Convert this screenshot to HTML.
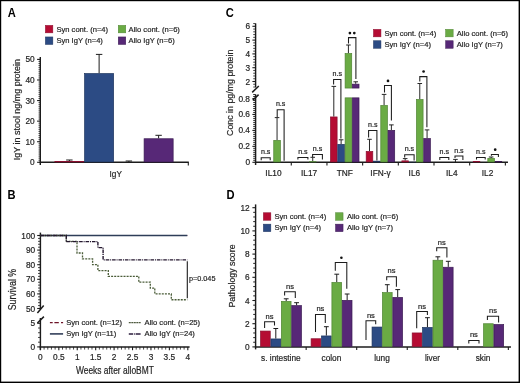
<!DOCTYPE html>
<html><head><meta charset="utf-8"><title>Figure</title>
<style>
html,body{margin:0;padding:0;background:#fff;}
body{width:520px;height:383px;overflow:hidden;}
svg{display:block;font-family:"Liberation Sans", sans-serif;filter:blur(0.35px);}
</style></head><body>
<svg width="520" height="383" viewBox="0 0 520 383">
<rect x="0" y="0" width="520" height="383" fill="#fff"/>
<rect x="0" y="0" width="520" height="1.2" fill="#000"/>
<rect x="0" y="0" width="1.2" height="383" fill="#000"/>
<rect x="518.6" y="0" width="1.4" height="383" fill="#000"/>
<rect x="0" y="381.6" width="520" height="1.4" fill="#000"/>
<text transform="translate(7.7,16.8) scale(0.93,1)" font-size="12" text-anchor="start" font-weight="bold" fill="#000">A</text>
<text transform="translate(7.6,198.9) scale(0.93,1)" font-size="12" text-anchor="start" font-weight="bold" fill="#000">B</text>
<text transform="translate(225.7,17) scale(0.93,1)" font-size="12" text-anchor="start" font-weight="bold" fill="#000">C</text>
<text transform="translate(226.4,198.8) scale(0.93,1)" font-size="12" text-anchor="start" font-weight="bold" fill="#000">D</text>
<line x1="40.3" y1="57" x2="40.3" y2="165" stroke="#1c1c1c" stroke-width="1.45"/>
<line x1="39.6" y1="162.3" x2="188.8" y2="162.3" stroke="#1c1c1c" stroke-width="1.45"/>
<line x1="188.3" y1="162.3" x2="188.3" y2="165.4" stroke="#1c1c1c" stroke-width="1.1"/>
<line x1="37.1" y1="162.3" x2="40.3" y2="162.3" stroke="#1c1c1c" stroke-width="1.1"/>
<line x1="38.5" y1="160.24" x2="40.3" y2="160.24" stroke="#222" stroke-width="0.8"/>
<line x1="38.5" y1="158.18" x2="40.3" y2="158.18" stroke="#222" stroke-width="0.8"/>
<line x1="38.5" y1="156.13" x2="40.3" y2="156.13" stroke="#222" stroke-width="0.8"/>
<line x1="38.5" y1="154.07" x2="40.3" y2="154.07" stroke="#222" stroke-width="0.8"/>
<line x1="38.5" y1="152.01" x2="40.3" y2="152.01" stroke="#222" stroke-width="0.8"/>
<line x1="38.5" y1="149.95" x2="40.3" y2="149.95" stroke="#222" stroke-width="0.8"/>
<line x1="38.5" y1="147.89" x2="40.3" y2="147.89" stroke="#222" stroke-width="0.8"/>
<line x1="38.5" y1="145.84" x2="40.3" y2="145.84" stroke="#222" stroke-width="0.8"/>
<line x1="38.5" y1="143.78" x2="40.3" y2="143.78" stroke="#222" stroke-width="0.8"/>
<line x1="37.1" y1="141.72" x2="40.3" y2="141.72" stroke="#1c1c1c" stroke-width="1.1"/>
<line x1="38.5" y1="139.66" x2="40.3" y2="139.66" stroke="#222" stroke-width="0.8"/>
<line x1="38.5" y1="137.6" x2="40.3" y2="137.6" stroke="#222" stroke-width="0.8"/>
<line x1="38.5" y1="135.55" x2="40.3" y2="135.55" stroke="#222" stroke-width="0.8"/>
<line x1="38.5" y1="133.49" x2="40.3" y2="133.49" stroke="#222" stroke-width="0.8"/>
<line x1="38.5" y1="131.43" x2="40.3" y2="131.43" stroke="#222" stroke-width="0.8"/>
<line x1="38.5" y1="129.37" x2="40.3" y2="129.37" stroke="#222" stroke-width="0.8"/>
<line x1="38.5" y1="127.31" x2="40.3" y2="127.31" stroke="#222" stroke-width="0.8"/>
<line x1="38.5" y1="125.26" x2="40.3" y2="125.26" stroke="#222" stroke-width="0.8"/>
<line x1="38.5" y1="123.2" x2="40.3" y2="123.2" stroke="#222" stroke-width="0.8"/>
<line x1="37.1" y1="121.14" x2="40.3" y2="121.14" stroke="#1c1c1c" stroke-width="1.1"/>
<line x1="38.5" y1="119.08" x2="40.3" y2="119.08" stroke="#222" stroke-width="0.8"/>
<line x1="38.5" y1="117.02" x2="40.3" y2="117.02" stroke="#222" stroke-width="0.8"/>
<line x1="38.5" y1="114.97" x2="40.3" y2="114.97" stroke="#222" stroke-width="0.8"/>
<line x1="38.5" y1="112.91" x2="40.3" y2="112.91" stroke="#222" stroke-width="0.8"/>
<line x1="38.5" y1="110.85" x2="40.3" y2="110.85" stroke="#222" stroke-width="0.8"/>
<line x1="38.5" y1="108.79" x2="40.3" y2="108.79" stroke="#222" stroke-width="0.8"/>
<line x1="38.5" y1="106.73" x2="40.3" y2="106.73" stroke="#222" stroke-width="0.8"/>
<line x1="38.5" y1="104.68" x2="40.3" y2="104.68" stroke="#222" stroke-width="0.8"/>
<line x1="38.5" y1="102.62" x2="40.3" y2="102.62" stroke="#222" stroke-width="0.8"/>
<line x1="37.1" y1="100.56" x2="40.3" y2="100.56" stroke="#1c1c1c" stroke-width="1.1"/>
<line x1="38.5" y1="98.5" x2="40.3" y2="98.5" stroke="#222" stroke-width="0.8"/>
<line x1="38.5" y1="96.44" x2="40.3" y2="96.44" stroke="#222" stroke-width="0.8"/>
<line x1="38.5" y1="94.39" x2="40.3" y2="94.39" stroke="#222" stroke-width="0.8"/>
<line x1="38.5" y1="92.33" x2="40.3" y2="92.33" stroke="#222" stroke-width="0.8"/>
<line x1="38.5" y1="90.27" x2="40.3" y2="90.27" stroke="#222" stroke-width="0.8"/>
<line x1="38.5" y1="88.21" x2="40.3" y2="88.21" stroke="#222" stroke-width="0.8"/>
<line x1="38.5" y1="86.15" x2="40.3" y2="86.15" stroke="#222" stroke-width="0.8"/>
<line x1="38.5" y1="84.1" x2="40.3" y2="84.1" stroke="#222" stroke-width="0.8"/>
<line x1="38.5" y1="82.04" x2="40.3" y2="82.04" stroke="#222" stroke-width="0.8"/>
<line x1="37.1" y1="79.98" x2="40.3" y2="79.98" stroke="#1c1c1c" stroke-width="1.1"/>
<line x1="38.5" y1="77.92" x2="40.3" y2="77.92" stroke="#222" stroke-width="0.8"/>
<line x1="38.5" y1="75.86" x2="40.3" y2="75.86" stroke="#222" stroke-width="0.8"/>
<line x1="38.5" y1="73.81" x2="40.3" y2="73.81" stroke="#222" stroke-width="0.8"/>
<line x1="38.5" y1="71.75" x2="40.3" y2="71.75" stroke="#222" stroke-width="0.8"/>
<line x1="38.5" y1="69.69" x2="40.3" y2="69.69" stroke="#222" stroke-width="0.8"/>
<line x1="38.5" y1="67.63" x2="40.3" y2="67.63" stroke="#222" stroke-width="0.8"/>
<line x1="38.5" y1="65.57" x2="40.3" y2="65.57" stroke="#222" stroke-width="0.8"/>
<line x1="38.5" y1="63.52" x2="40.3" y2="63.52" stroke="#222" stroke-width="0.8"/>
<line x1="38.5" y1="61.46" x2="40.3" y2="61.46" stroke="#222" stroke-width="0.8"/>
<line x1="37.1" y1="59.4" x2="40.3" y2="59.4" stroke="#1c1c1c" stroke-width="1.1"/>
<text x="34.7" y="165.3" font-size="8.3" text-anchor="end" font-weight="normal" fill="#1c1c1c" stroke="#2a2a2a" stroke-width="0.2">0</text>
<text x="34.7" y="144.72" font-size="8.3" text-anchor="end" font-weight="normal" fill="#1c1c1c" stroke="#2a2a2a" stroke-width="0.2">10</text>
<text x="34.7" y="124.14" font-size="8.3" text-anchor="end" font-weight="normal" fill="#1c1c1c" stroke="#2a2a2a" stroke-width="0.2">20</text>
<text x="34.7" y="103.56" font-size="8.3" text-anchor="end" font-weight="normal" fill="#1c1c1c" stroke="#2a2a2a" stroke-width="0.2">30</text>
<text x="34.7" y="82.98" font-size="8.3" text-anchor="end" font-weight="normal" fill="#1c1c1c" stroke="#2a2a2a" stroke-width="0.2">40</text>
<text x="34.7" y="62.4" font-size="8.3" text-anchor="end" font-weight="normal" fill="#1c1c1c" stroke="#2a2a2a" stroke-width="0.2">50</text>
<line x1="69.38" y1="161.2" x2="69.38" y2="160" stroke="#1c1c1c" stroke-width="1"/>
<line x1="66.17" y1="160" x2="72.58" y2="160" stroke="#1c1c1c" stroke-width="1"/>
<rect x="54.85" y="161.55" width="29.05" height="0.4" fill="#b50c33" stroke="#8a1030" stroke-width="0.7"/>
<line x1="99.12" y1="73.2" x2="99.12" y2="54.4" stroke="#1c1c1c" stroke-width="1"/>
<line x1="95.92" y1="54.4" x2="102.33" y2="54.4" stroke="#1c1c1c" stroke-width="1"/>
<rect x="84.6" y="73.55" width="29.05" height="88.4" fill="#2c4b84" stroke="#1f355e" stroke-width="0.7"/>
<line x1="128.88" y1="162.3" x2="128.88" y2="161" stroke="#1c1c1c" stroke-width="1"/>
<line x1="125.67" y1="161" x2="132.07" y2="161" stroke="#1c1c1c" stroke-width="1"/>
<line x1="158.62" y1="138.4" x2="158.62" y2="135.3" stroke="#1c1c1c" stroke-width="1"/>
<line x1="155.43" y1="135.3" x2="161.82" y2="135.3" stroke="#1c1c1c" stroke-width="1"/>
<rect x="144.1" y="138.75" width="29.05" height="23.2" fill="#572877" stroke="#3b1a52" stroke-width="0.7"/>
<text transform="translate(19.5,109.6) rotate(-90)" font-size="8.95" text-anchor="middle" fill="#1c1c1c" stroke="#2a2a2a" stroke-width="0.2">IgY in stool ng/mg protein</text>
<text transform="translate(115.7,176.8) scale(0.86,1)" font-size="9.6" text-anchor="middle" font-weight="normal" fill="#1c1c1c" stroke="#2a2a2a" stroke-width="0.2">IgY</text>
<rect x="45.35" y="25.35" width="7.5" height="7.5" fill="#b50c33" stroke="#8a1030" stroke-width="0.5"/>
<text x="56.4" y="31.5" font-size="7.6" text-anchor="start" font-weight="normal" fill="#1c1c1c" stroke="#2a2a2a" stroke-width="0.2">Syn cont. (n=4)</text>
<rect x="45.35" y="36.95" width="7.5" height="7.5" fill="#2c4b84" stroke="#1f355e" stroke-width="0.5"/>
<text x="56.4" y="43.1" font-size="7.6" text-anchor="start" font-weight="normal" fill="#1c1c1c" stroke="#2a2a2a" stroke-width="0.2">Syn IgY (n=4)</text>
<rect x="118.25" y="25.35" width="7.5" height="7.5" fill="#6aab44" stroke="#4f8432" stroke-width="0.5"/>
<text x="128.6" y="31.5" font-size="7.6" text-anchor="start" font-weight="normal" fill="#1c1c1c" stroke="#2a2a2a" stroke-width="0.2">Allo cont. (n=6)</text>
<rect x="118.25" y="36.95" width="7.5" height="7.5" fill="#572877" stroke="#3b1a52" stroke-width="0.5"/>
<text x="128.6" y="43.1" font-size="7.6" text-anchor="start" font-weight="normal" fill="#1c1c1c" stroke="#2a2a2a" stroke-width="0.2">Allo IgY (n=6)</text>
<line x1="40.4" y1="232.6" x2="40.4" y2="309" stroke="#1c1c1c" stroke-width="1.45"/>
<line x1="40.4" y1="318" x2="40.4" y2="349.8" stroke="#1c1c1c" stroke-width="1.45"/>
<line x1="37.4" y1="312.9" x2="43.7" y2="305.4" stroke="#1c1c1c" stroke-width="1.5"/>
<line x1="37.4" y1="323" x2="43.9" y2="316.6" stroke="#1c1c1c" stroke-width="1.5"/>
<line x1="39.7" y1="346.9" x2="189.6" y2="346.9" stroke="#1c1c1c" stroke-width="1.45"/>
<line x1="37.2" y1="308.5" x2="40.4" y2="308.5" stroke="#1c1c1c" stroke-width="1.1"/>
<line x1="38" y1="305.58" x2="40.4" y2="305.58" stroke="#1c1c1c" stroke-width="0.8"/>
<line x1="38" y1="302.66" x2="40.4" y2="302.66" stroke="#1c1c1c" stroke-width="0.8"/>
<line x1="38" y1="299.74" x2="40.4" y2="299.74" stroke="#1c1c1c" stroke-width="0.8"/>
<line x1="38" y1="296.82" x2="40.4" y2="296.82" stroke="#1c1c1c" stroke-width="0.8"/>
<line x1="37.2" y1="293.9" x2="40.4" y2="293.9" stroke="#1c1c1c" stroke-width="1.1"/>
<line x1="38" y1="290.98" x2="40.4" y2="290.98" stroke="#1c1c1c" stroke-width="0.8"/>
<line x1="38" y1="288.06" x2="40.4" y2="288.06" stroke="#1c1c1c" stroke-width="0.8"/>
<line x1="38" y1="285.14" x2="40.4" y2="285.14" stroke="#1c1c1c" stroke-width="0.8"/>
<line x1="38" y1="282.22" x2="40.4" y2="282.22" stroke="#1c1c1c" stroke-width="0.8"/>
<line x1="37.2" y1="279.3" x2="40.4" y2="279.3" stroke="#1c1c1c" stroke-width="1.1"/>
<line x1="38" y1="276.38" x2="40.4" y2="276.38" stroke="#1c1c1c" stroke-width="0.8"/>
<line x1="38" y1="273.46" x2="40.4" y2="273.46" stroke="#1c1c1c" stroke-width="0.8"/>
<line x1="38" y1="270.54" x2="40.4" y2="270.54" stroke="#1c1c1c" stroke-width="0.8"/>
<line x1="38" y1="267.62" x2="40.4" y2="267.62" stroke="#1c1c1c" stroke-width="0.8"/>
<line x1="37.2" y1="264.7" x2="40.4" y2="264.7" stroke="#1c1c1c" stroke-width="1.1"/>
<line x1="38" y1="261.78" x2="40.4" y2="261.78" stroke="#1c1c1c" stroke-width="0.8"/>
<line x1="38" y1="258.86" x2="40.4" y2="258.86" stroke="#1c1c1c" stroke-width="0.8"/>
<line x1="38" y1="255.94" x2="40.4" y2="255.94" stroke="#1c1c1c" stroke-width="0.8"/>
<line x1="38" y1="253.02" x2="40.4" y2="253.02" stroke="#1c1c1c" stroke-width="0.8"/>
<line x1="37.2" y1="250.1" x2="40.4" y2="250.1" stroke="#1c1c1c" stroke-width="1.1"/>
<line x1="38" y1="247.18" x2="40.4" y2="247.18" stroke="#1c1c1c" stroke-width="0.8"/>
<line x1="38" y1="244.26" x2="40.4" y2="244.26" stroke="#1c1c1c" stroke-width="0.8"/>
<line x1="38" y1="241.34" x2="40.4" y2="241.34" stroke="#1c1c1c" stroke-width="0.8"/>
<line x1="38" y1="238.42" x2="40.4" y2="238.42" stroke="#1c1c1c" stroke-width="0.8"/>
<line x1="37.2" y1="235.5" x2="40.4" y2="235.5" stroke="#1c1c1c" stroke-width="1.1"/>
<text x="35.2" y="311.5" font-size="8.3" text-anchor="end" font-weight="normal" fill="#1c1c1c" stroke="#2a2a2a" stroke-width="0.2">50</text>
<text x="35.2" y="296.9" font-size="8.3" text-anchor="end" font-weight="normal" fill="#1c1c1c" stroke="#2a2a2a" stroke-width="0.2">60</text>
<text x="35.2" y="282.3" font-size="8.3" text-anchor="end" font-weight="normal" fill="#1c1c1c" stroke="#2a2a2a" stroke-width="0.2">70</text>
<text x="35.2" y="267.7" font-size="8.3" text-anchor="end" font-weight="normal" fill="#1c1c1c" stroke="#2a2a2a" stroke-width="0.2">80</text>
<text x="35.2" y="253.1" font-size="8.3" text-anchor="end" font-weight="normal" fill="#1c1c1c" stroke="#2a2a2a" stroke-width="0.2">90</text>
<text x="35.2" y="238.5" font-size="8.3" text-anchor="end" font-weight="normal" fill="#1c1c1c" stroke="#2a2a2a" stroke-width="0.2">100</text>
<line x1="37.2" y1="346.9" x2="40.4" y2="346.9" stroke="#1c1c1c" stroke-width="1.1"/>
<line x1="38" y1="342.18" x2="40.4" y2="342.18" stroke="#1c1c1c" stroke-width="0.8"/>
<line x1="38" y1="337.46" x2="40.4" y2="337.46" stroke="#1c1c1c" stroke-width="0.8"/>
<line x1="38" y1="332.74" x2="40.4" y2="332.74" stroke="#1c1c1c" stroke-width="0.8"/>
<line x1="38" y1="328.02" x2="40.4" y2="328.02" stroke="#1c1c1c" stroke-width="0.8"/>
<line x1="37.2" y1="323.3" x2="40.4" y2="323.3" stroke="#1c1c1c" stroke-width="1.1"/>
<text x="35.2" y="326.3" font-size="8.3" text-anchor="end" font-weight="normal" fill="#1c1c1c" stroke="#2a2a2a" stroke-width="0.2">5</text>
<text x="35.2" y="349.9" font-size="8.3" text-anchor="end" font-weight="normal" fill="#1c1c1c" stroke="#2a2a2a" stroke-width="0.2">0</text>
<line x1="40.4" y1="346.9" x2="40.4" y2="350.2" stroke="#1c1c1c" stroke-width="1.1"/>
<line x1="44.09" y1="346.9" x2="44.09" y2="349.6" stroke="#1c1c1c" stroke-width="0.8"/>
<line x1="47.77" y1="346.9" x2="47.77" y2="349.6" stroke="#1c1c1c" stroke-width="0.8"/>
<line x1="51.45" y1="346.9" x2="51.45" y2="349.6" stroke="#1c1c1c" stroke-width="0.8"/>
<line x1="55.14" y1="346.9" x2="55.14" y2="349.6" stroke="#1c1c1c" stroke-width="0.8"/>
<line x1="58.83" y1="346.9" x2="58.83" y2="350.2" stroke="#1c1c1c" stroke-width="1.1"/>
<line x1="62.51" y1="346.9" x2="62.51" y2="349.6" stroke="#1c1c1c" stroke-width="0.8"/>
<line x1="66.19" y1="346.9" x2="66.19" y2="349.6" stroke="#1c1c1c" stroke-width="0.8"/>
<line x1="69.88" y1="346.9" x2="69.88" y2="349.6" stroke="#1c1c1c" stroke-width="0.8"/>
<line x1="73.56" y1="346.9" x2="73.56" y2="349.6" stroke="#1c1c1c" stroke-width="0.8"/>
<line x1="77.25" y1="346.9" x2="77.25" y2="350.2" stroke="#1c1c1c" stroke-width="1.1"/>
<line x1="80.94" y1="346.9" x2="80.94" y2="349.6" stroke="#1c1c1c" stroke-width="0.8"/>
<line x1="84.62" y1="346.9" x2="84.62" y2="349.6" stroke="#1c1c1c" stroke-width="0.8"/>
<line x1="88.31" y1="346.9" x2="88.31" y2="349.6" stroke="#1c1c1c" stroke-width="0.8"/>
<line x1="91.99" y1="346.9" x2="91.99" y2="349.6" stroke="#1c1c1c" stroke-width="0.8"/>
<line x1="95.68" y1="346.9" x2="95.68" y2="350.2" stroke="#1c1c1c" stroke-width="1.1"/>
<line x1="99.36" y1="346.9" x2="99.36" y2="349.6" stroke="#1c1c1c" stroke-width="0.8"/>
<line x1="103.05" y1="346.9" x2="103.05" y2="349.6" stroke="#1c1c1c" stroke-width="0.8"/>
<line x1="106.73" y1="346.9" x2="106.73" y2="349.6" stroke="#1c1c1c" stroke-width="0.8"/>
<line x1="110.41" y1="346.9" x2="110.41" y2="349.6" stroke="#1c1c1c" stroke-width="0.8"/>
<line x1="114.1" y1="346.9" x2="114.1" y2="350.2" stroke="#1c1c1c" stroke-width="1.1"/>
<line x1="117.78" y1="346.9" x2="117.78" y2="349.6" stroke="#1c1c1c" stroke-width="0.8"/>
<line x1="121.47" y1="346.9" x2="121.47" y2="349.6" stroke="#1c1c1c" stroke-width="0.8"/>
<line x1="125.16" y1="346.9" x2="125.16" y2="349.6" stroke="#1c1c1c" stroke-width="0.8"/>
<line x1="128.84" y1="346.9" x2="128.84" y2="349.6" stroke="#1c1c1c" stroke-width="0.8"/>
<line x1="132.53" y1="346.9" x2="132.53" y2="350.2" stroke="#1c1c1c" stroke-width="1.1"/>
<line x1="136.21" y1="346.9" x2="136.21" y2="349.6" stroke="#1c1c1c" stroke-width="0.8"/>
<line x1="139.9" y1="346.9" x2="139.9" y2="349.6" stroke="#1c1c1c" stroke-width="0.8"/>
<line x1="143.58" y1="346.9" x2="143.58" y2="349.6" stroke="#1c1c1c" stroke-width="0.8"/>
<line x1="147.26" y1="346.9" x2="147.26" y2="349.6" stroke="#1c1c1c" stroke-width="0.8"/>
<line x1="150.95" y1="346.9" x2="150.95" y2="350.2" stroke="#1c1c1c" stroke-width="1.1"/>
<line x1="154.64" y1="346.9" x2="154.64" y2="349.6" stroke="#1c1c1c" stroke-width="0.8"/>
<line x1="158.32" y1="346.9" x2="158.32" y2="349.6" stroke="#1c1c1c" stroke-width="0.8"/>
<line x1="162" y1="346.9" x2="162" y2="349.6" stroke="#1c1c1c" stroke-width="0.8"/>
<line x1="165.69" y1="346.9" x2="165.69" y2="349.6" stroke="#1c1c1c" stroke-width="0.8"/>
<line x1="169.38" y1="346.9" x2="169.38" y2="350.2" stroke="#1c1c1c" stroke-width="1.1"/>
<line x1="173.06" y1="346.9" x2="173.06" y2="349.6" stroke="#1c1c1c" stroke-width="0.8"/>
<line x1="176.75" y1="346.9" x2="176.75" y2="349.6" stroke="#1c1c1c" stroke-width="0.8"/>
<line x1="180.43" y1="346.9" x2="180.43" y2="349.6" stroke="#1c1c1c" stroke-width="0.8"/>
<line x1="184.12" y1="346.9" x2="184.12" y2="349.6" stroke="#1c1c1c" stroke-width="0.8"/>
<line x1="187.8" y1="346.9" x2="187.8" y2="350.2" stroke="#1c1c1c" stroke-width="1.1"/>
<text x="40.4" y="360.4" font-size="8.3" text-anchor="middle" font-weight="normal" fill="#1c1c1c" stroke="#2a2a2a" stroke-width="0.2">0</text>
<text x="58.83" y="360.4" font-size="8.3" text-anchor="middle" font-weight="normal" fill="#1c1c1c" stroke="#2a2a2a" stroke-width="0.2">0.5</text>
<text x="77.25" y="360.4" font-size="8.3" text-anchor="middle" font-weight="normal" fill="#1c1c1c" stroke="#2a2a2a" stroke-width="0.2">1</text>
<text x="95.68" y="360.4" font-size="8.3" text-anchor="middle" font-weight="normal" fill="#1c1c1c" stroke="#2a2a2a" stroke-width="0.2">1.5</text>
<text x="114.1" y="360.4" font-size="8.3" text-anchor="middle" font-weight="normal" fill="#1c1c1c" stroke="#2a2a2a" stroke-width="0.2">2</text>
<text x="132.53" y="360.4" font-size="8.3" text-anchor="middle" font-weight="normal" fill="#1c1c1c" stroke="#2a2a2a" stroke-width="0.2">2.5</text>
<text x="150.95" y="360.4" font-size="8.3" text-anchor="middle" font-weight="normal" fill="#1c1c1c" stroke="#2a2a2a" stroke-width="0.2">3</text>
<text x="169.38" y="360.4" font-size="8.3" text-anchor="middle" font-weight="normal" fill="#1c1c1c" stroke="#2a2a2a" stroke-width="0.2">3.5</text>
<text x="187.8" y="360.4" font-size="8.3" text-anchor="middle" font-weight="normal" fill="#1c1c1c" stroke="#2a2a2a" stroke-width="0.2">4</text>
<text x="114.9" y="374.3" font-size="10.4" text-anchor="middle" font-weight="normal" fill="#1c1c1c" stroke="#2a2a2a" stroke-width="0.2" textLength="77.8" lengthAdjust="spacingAndGlyphs">Weeks after alloBMT</text>
<text transform="translate(15.8,289.6) rotate(-90) scale(0.86,1)" font-size="10.2" text-anchor="middle" fill="#1c1c1c" stroke="#2a2a2a" stroke-width="0.2">Survival %</text>
<line x1="40.4" y1="235.5" x2="187.3" y2="235.5" stroke="#7a1830" stroke-width="1" stroke-dasharray="3 2"/>
<line x1="40.4" y1="235.5" x2="187.3" y2="235.5" stroke="#2e3d58" stroke-width="1.5"/>
<path d="M40.4,235.5 H66.3 V241.34 H77 V253.02 H82.5 V258.86 H92.6 V264.7 H97.9 V270.54 H108.3 V276.38 H138.8 V282.22 H150.3 V288.06 H154.8 V293.9 H171.3 V299.74 H187.3" fill="none" stroke="#4a5c38" stroke-width="1.3" stroke-dasharray="2 1.1"/>
<path d="M40.4,235.5 H66.3 V241.59 H97.9 V247.66 H103.1 V259.84 H187.3" fill="none" stroke="#24172f" stroke-width="1.4" stroke-dasharray="3.6 0.9 1 0.9"/>
<line x1="187.3" y1="261.2" x2="187.3" y2="298.2" stroke="#1c1c1c" stroke-width="1.1"/>
<text x="188.9" y="281" font-size="7.3" text-anchor="start" font-weight="normal" fill="#1c1c1c" stroke="#2a2a2a" stroke-width="0.2">p=0.045</text>
<line x1="49.9" y1="322.6" x2="63.1" y2="322.6" stroke="#6e1428" stroke-width="1.4" stroke-dasharray="2.8 1.7 4.4 2.2"/>
<line x1="49.9" y1="333.9" x2="63.1" y2="333.9" stroke="#333f5a" stroke-width="1.6"/>
<line x1="128.8" y1="322.6" x2="140.7" y2="322.6" stroke="#4f5b40" stroke-width="1.4" stroke-dasharray="2 0.5"/>
<line x1="128.8" y1="333.9" x2="140.7" y2="333.9" stroke="#2c1e3e" stroke-width="1.5" stroke-dasharray="4.2 0.8 1 0.8 5"/>
<text x="66.2" y="324.9" font-size="7.6" text-anchor="start" font-weight="normal" fill="#1c1c1c" stroke="#2a2a2a" stroke-width="0.2">Syn cont. (n=12)</text>
<text x="66.2" y="335.5" font-size="7.6" text-anchor="start" font-weight="normal" fill="#1c1c1c" stroke="#2a2a2a" stroke-width="0.2">Syn IgY (n=11)</text>
<text x="144.6" y="324.9" font-size="7.6" text-anchor="start" font-weight="normal" fill="#1c1c1c" stroke="#2a2a2a" stroke-width="0.2">Allo cont. (n=25)</text>
<text x="144.6" y="335.5" font-size="7.6" text-anchor="start" font-weight="normal" fill="#1c1c1c" stroke="#2a2a2a" stroke-width="0.2">Allo IgY (n=24)</text>
<line x1="255.6" y1="23.4" x2="255.6" y2="87.4" stroke="#1c1c1c" stroke-width="1.45"/>
<line x1="255.6" y1="94.4" x2="255.6" y2="165" stroke="#1c1c1c" stroke-width="1.45"/>
<line x1="252.2" y1="92.4" x2="258.8" y2="86" stroke="#1c1c1c" stroke-width="1.5"/>
<line x1="252.7" y1="100.3" x2="258.6" y2="94.6" stroke="#1c1c1c" stroke-width="1.5"/>
<line x1="254.9" y1="162.3" x2="507.96" y2="162.3" stroke="#1c1c1c" stroke-width="1.45"/>
<line x1="291.28" y1="162.3" x2="291.28" y2="165.5" stroke="#1c1c1c" stroke-width="1.1"/>
<line x1="326.96" y1="162.3" x2="326.96" y2="165.5" stroke="#1c1c1c" stroke-width="1.1"/>
<line x1="362.64" y1="162.3" x2="362.64" y2="165.5" stroke="#1c1c1c" stroke-width="1.1"/>
<line x1="398.32" y1="162.3" x2="398.32" y2="165.5" stroke="#1c1c1c" stroke-width="1.1"/>
<line x1="434" y1="162.3" x2="434" y2="165.5" stroke="#1c1c1c" stroke-width="1.1"/>
<line x1="469.68" y1="162.3" x2="469.68" y2="165.5" stroke="#1c1c1c" stroke-width="1.1"/>
<line x1="505.36" y1="162.3" x2="505.36" y2="165.5" stroke="#1c1c1c" stroke-width="1.1"/>
<line x1="253.2" y1="87.02" x2="255.6" y2="87.02" stroke="#1c1c1c" stroke-width="0.8"/>
<line x1="253.2" y1="84.26" x2="255.6" y2="84.26" stroke="#1c1c1c" stroke-width="0.8"/>
<line x1="252.4" y1="81.5" x2="255.6" y2="81.5" stroke="#1c1c1c" stroke-width="1.1"/>
<line x1="253.2" y1="78.74" x2="255.6" y2="78.74" stroke="#1c1c1c" stroke-width="0.8"/>
<line x1="253.2" y1="75.98" x2="255.6" y2="75.98" stroke="#1c1c1c" stroke-width="0.8"/>
<line x1="253.2" y1="73.22" x2="255.6" y2="73.22" stroke="#1c1c1c" stroke-width="0.8"/>
<line x1="253.2" y1="70.46" x2="255.6" y2="70.46" stroke="#1c1c1c" stroke-width="0.8"/>
<line x1="252.4" y1="67.7" x2="255.6" y2="67.7" stroke="#1c1c1c" stroke-width="1.1"/>
<line x1="253.2" y1="64.94" x2="255.6" y2="64.94" stroke="#1c1c1c" stroke-width="0.8"/>
<line x1="253.2" y1="62.18" x2="255.6" y2="62.18" stroke="#1c1c1c" stroke-width="0.8"/>
<line x1="253.2" y1="59.42" x2="255.6" y2="59.42" stroke="#1c1c1c" stroke-width="0.8"/>
<line x1="253.2" y1="56.66" x2="255.6" y2="56.66" stroke="#1c1c1c" stroke-width="0.8"/>
<line x1="252.4" y1="53.9" x2="255.6" y2="53.9" stroke="#1c1c1c" stroke-width="1.1"/>
<line x1="253.2" y1="51.14" x2="255.6" y2="51.14" stroke="#1c1c1c" stroke-width="0.8"/>
<line x1="253.2" y1="48.38" x2="255.6" y2="48.38" stroke="#1c1c1c" stroke-width="0.8"/>
<line x1="253.2" y1="45.62" x2="255.6" y2="45.62" stroke="#1c1c1c" stroke-width="0.8"/>
<line x1="253.2" y1="42.86" x2="255.6" y2="42.86" stroke="#1c1c1c" stroke-width="0.8"/>
<line x1="252.4" y1="40.1" x2="255.6" y2="40.1" stroke="#1c1c1c" stroke-width="1.1"/>
<line x1="253.2" y1="37.34" x2="255.6" y2="37.34" stroke="#1c1c1c" stroke-width="0.8"/>
<line x1="253.2" y1="34.58" x2="255.6" y2="34.58" stroke="#1c1c1c" stroke-width="0.8"/>
<line x1="253.2" y1="31.82" x2="255.6" y2="31.82" stroke="#1c1c1c" stroke-width="0.8"/>
<line x1="253.2" y1="29.06" x2="255.6" y2="29.06" stroke="#1c1c1c" stroke-width="0.8"/>
<line x1="252.4" y1="26.3" x2="255.6" y2="26.3" stroke="#1c1c1c" stroke-width="1.1"/>
<line x1="253.2" y1="23.54" x2="255.6" y2="23.54" stroke="#1c1c1c" stroke-width="0.8"/>
<text x="250" y="84.5" font-size="8.3" text-anchor="end" font-weight="normal" fill="#1c1c1c" stroke="#2a2a2a" stroke-width="0.2">2</text>
<text x="250" y="70.7" font-size="8.3" text-anchor="end" font-weight="normal" fill="#1c1c1c" stroke="#2a2a2a" stroke-width="0.2">3</text>
<text x="250" y="56.9" font-size="8.3" text-anchor="end" font-weight="normal" fill="#1c1c1c" stroke="#2a2a2a" stroke-width="0.2">4</text>
<text x="250" y="43.1" font-size="8.3" text-anchor="end" font-weight="normal" fill="#1c1c1c" stroke="#2a2a2a" stroke-width="0.2">5</text>
<text x="250" y="29.3" font-size="8.3" text-anchor="end" font-weight="normal" fill="#1c1c1c" stroke="#2a2a2a" stroke-width="0.2">6</text>
<line x1="252.4" y1="162.3" x2="255.6" y2="162.3" stroke="#1c1c1c" stroke-width="1.1"/>
<line x1="253.2" y1="160.31" x2="255.6" y2="160.31" stroke="#1c1c1c" stroke-width="0.9"/>
<line x1="253.2" y1="158.31" x2="255.6" y2="158.31" stroke="#1c1c1c" stroke-width="0.9"/>
<line x1="253.2" y1="156.32" x2="255.6" y2="156.32" stroke="#1c1c1c" stroke-width="0.9"/>
<line x1="253.2" y1="154.33" x2="255.6" y2="154.33" stroke="#1c1c1c" stroke-width="0.9"/>
<line x1="253.2" y1="152.33" x2="255.6" y2="152.33" stroke="#1c1c1c" stroke-width="0.9"/>
<line x1="253.2" y1="150.34" x2="255.6" y2="150.34" stroke="#1c1c1c" stroke-width="0.9"/>
<line x1="253.2" y1="148.34" x2="255.6" y2="148.34" stroke="#1c1c1c" stroke-width="0.9"/>
<line x1="252.4" y1="146.35" x2="255.6" y2="146.35" stroke="#1c1c1c" stroke-width="1.1"/>
<line x1="253.2" y1="144.36" x2="255.6" y2="144.36" stroke="#1c1c1c" stroke-width="0.9"/>
<line x1="253.2" y1="142.36" x2="255.6" y2="142.36" stroke="#1c1c1c" stroke-width="0.9"/>
<line x1="253.2" y1="140.37" x2="255.6" y2="140.37" stroke="#1c1c1c" stroke-width="0.9"/>
<line x1="253.2" y1="138.38" x2="255.6" y2="138.38" stroke="#1c1c1c" stroke-width="0.9"/>
<line x1="253.2" y1="136.38" x2="255.6" y2="136.38" stroke="#1c1c1c" stroke-width="0.9"/>
<line x1="253.2" y1="134.39" x2="255.6" y2="134.39" stroke="#1c1c1c" stroke-width="0.9"/>
<line x1="253.2" y1="132.39" x2="255.6" y2="132.39" stroke="#1c1c1c" stroke-width="0.9"/>
<line x1="252.4" y1="130.4" x2="255.6" y2="130.4" stroke="#1c1c1c" stroke-width="1.1"/>
<line x1="253.2" y1="128.41" x2="255.6" y2="128.41" stroke="#1c1c1c" stroke-width="0.9"/>
<line x1="253.2" y1="126.41" x2="255.6" y2="126.41" stroke="#1c1c1c" stroke-width="0.9"/>
<line x1="253.2" y1="124.42" x2="255.6" y2="124.42" stroke="#1c1c1c" stroke-width="0.9"/>
<line x1="253.2" y1="122.43" x2="255.6" y2="122.43" stroke="#1c1c1c" stroke-width="0.9"/>
<line x1="253.2" y1="120.43" x2="255.6" y2="120.43" stroke="#1c1c1c" stroke-width="0.9"/>
<line x1="253.2" y1="118.44" x2="255.6" y2="118.44" stroke="#1c1c1c" stroke-width="0.9"/>
<line x1="253.2" y1="116.44" x2="255.6" y2="116.44" stroke="#1c1c1c" stroke-width="0.9"/>
<line x1="252.4" y1="114.45" x2="255.6" y2="114.45" stroke="#1c1c1c" stroke-width="1.1"/>
<line x1="253.2" y1="112.46" x2="255.6" y2="112.46" stroke="#1c1c1c" stroke-width="0.9"/>
<line x1="253.2" y1="110.46" x2="255.6" y2="110.46" stroke="#1c1c1c" stroke-width="0.9"/>
<line x1="253.2" y1="108.47" x2="255.6" y2="108.47" stroke="#1c1c1c" stroke-width="0.9"/>
<line x1="253.2" y1="106.48" x2="255.6" y2="106.48" stroke="#1c1c1c" stroke-width="0.9"/>
<line x1="253.2" y1="104.48" x2="255.6" y2="104.48" stroke="#1c1c1c" stroke-width="0.9"/>
<line x1="253.2" y1="102.49" x2="255.6" y2="102.49" stroke="#1c1c1c" stroke-width="0.9"/>
<line x1="253.2" y1="100.49" x2="255.6" y2="100.49" stroke="#1c1c1c" stroke-width="0.9"/>
<line x1="252.4" y1="98.5" x2="255.6" y2="98.5" stroke="#1c1c1c" stroke-width="1.1"/>
<line x1="253.2" y1="96.51" x2="255.6" y2="96.51" stroke="#1c1c1c" stroke-width="0.9"/>
<line x1="253.2" y1="94.51" x2="255.6" y2="94.51" stroke="#1c1c1c" stroke-width="0.9"/>
<text x="250" y="165.3" font-size="8.3" text-anchor="end" font-weight="normal" fill="#1c1c1c" stroke="#2a2a2a" stroke-width="0.2">0</text>
<text x="250" y="149.35" font-size="8.3" text-anchor="end" font-weight="normal" fill="#1c1c1c" stroke="#2a2a2a" stroke-width="0.2">0.2</text>
<text x="250" y="133.4" font-size="8.3" text-anchor="end" font-weight="normal" fill="#1c1c1c" stroke="#2a2a2a" stroke-width="0.2">0.4</text>
<text x="250" y="117.45" font-size="8.3" text-anchor="end" font-weight="normal" fill="#1c1c1c" stroke="#2a2a2a" stroke-width="0.2">0.6</text>
<text x="250" y="101.5" font-size="8.3" text-anchor="end" font-weight="normal" fill="#1c1c1c" stroke="#2a2a2a" stroke-width="0.2">0.8</text>
<text transform="translate(233.3,92.8) rotate(-90) scale(0.92,1)" font-size="9.6" text-anchor="middle" fill="#1c1c1c" stroke="#2a2a2a" stroke-width="0.2">Conc in pg/mg protein</text>
<line x1="277.05" y1="140" x2="277.05" y2="117.6" stroke="#1c1c1c" stroke-width="0.95"/>
<line x1="274.75" y1="117.6" x2="279.35" y2="117.6" stroke="#1c1c1c" stroke-width="0.95"/>
<rect x="273.75" y="140.35" width="6.6" height="21.6" fill="#6aab44" stroke="#4f8432" stroke-width="0.7"/>
<text x="273.44" y="175.6" font-size="8.3" text-anchor="middle" font-weight="normal" fill="#1c1c1c" stroke="#2a2a2a" stroke-width="0.2">IL10</text>
<line x1="312.73" y1="161.3" x2="312.73" y2="157.3" stroke="#1c1c1c" stroke-width="0.95"/>
<line x1="310.43" y1="157.3" x2="315.03" y2="157.3" stroke="#1c1c1c" stroke-width="0.95"/>
<rect x="309.43" y="161.65" width="6.6" height="0.3" fill="#6aab44" stroke="#4f8432" stroke-width="0.7"/>
<text x="309.12" y="175.6" font-size="8.3" text-anchor="middle" font-weight="normal" fill="#1c1c1c" stroke="#2a2a2a" stroke-width="0.2">IL17</text>
<line x1="333.81" y1="116.6" x2="333.81" y2="86.4" stroke="#1c1c1c" stroke-width="0.95"/>
<line x1="331.51" y1="86.4" x2="336.11" y2="86.4" stroke="#1c1c1c" stroke-width="0.95"/>
<rect x="330.51" y="116.95" width="6.6" height="45" fill="#b50c33" stroke="#8a1030" stroke-width="0.7"/>
<line x1="341.11" y1="144" x2="341.11" y2="139.8" stroke="#1c1c1c" stroke-width="0.95"/>
<line x1="338.81" y1="139.8" x2="343.41" y2="139.8" stroke="#1c1c1c" stroke-width="0.95"/>
<rect x="337.81" y="144.35" width="6.6" height="17.6" fill="#2c4b84" stroke="#1f355e" stroke-width="0.7"/>
<line x1="348.41" y1="53.2" x2="348.41" y2="45" stroke="#1c1c1c" stroke-width="0.95"/>
<line x1="346.11" y1="45" x2="350.71" y2="45" stroke="#1c1c1c" stroke-width="0.95"/>
<rect x="345.11" y="97.85" width="6.6" height="64.1" fill="#6aab44" stroke="#4f8432" stroke-width="0.7"/>
<rect x="345.11" y="53.55" width="6.6" height="34.5" fill="#6aab44" stroke="#4f8432" stroke-width="0.7"/>
<line x1="355.71" y1="83.8" x2="355.71" y2="81.8" stroke="#1c1c1c" stroke-width="0.95"/>
<line x1="353.41" y1="81.8" x2="358.01" y2="81.8" stroke="#1c1c1c" stroke-width="0.95"/>
<rect x="352.41" y="97.85" width="6.6" height="64.1" fill="#572877" stroke="#3b1a52" stroke-width="0.7"/>
<rect x="352.41" y="84.15" width="6.6" height="3.9" fill="#572877" stroke="#3b1a52" stroke-width="0.7"/>
<text x="344.8" y="175.6" font-size="8.3" text-anchor="middle" font-weight="normal" fill="#1c1c1c" stroke="#2a2a2a" stroke-width="0.2">TNF</text>
<line x1="369.49" y1="151.1" x2="369.49" y2="139.3" stroke="#1c1c1c" stroke-width="0.95"/>
<line x1="367.19" y1="139.3" x2="371.79" y2="139.3" stroke="#1c1c1c" stroke-width="0.95"/>
<rect x="366.19" y="151.45" width="6.6" height="10.5" fill="#b50c33" stroke="#8a1030" stroke-width="0.7"/>
<rect x="373.49" y="161.15" width="6.6" height="0.8" fill="#2c4b84" stroke="#1f355e" stroke-width="0.7"/>
<line x1="384.09" y1="105.1" x2="384.09" y2="94.4" stroke="#1c1c1c" stroke-width="0.95"/>
<line x1="381.79" y1="94.4" x2="386.39" y2="94.4" stroke="#1c1c1c" stroke-width="0.95"/>
<rect x="380.79" y="105.45" width="6.6" height="56.5" fill="#6aab44" stroke="#4f8432" stroke-width="0.7"/>
<line x1="391.39" y1="130" x2="391.39" y2="124.9" stroke="#1c1c1c" stroke-width="0.95"/>
<line x1="389.09" y1="124.9" x2="393.69" y2="124.9" stroke="#1c1c1c" stroke-width="0.95"/>
<rect x="388.09" y="130.35" width="6.6" height="31.6" fill="#572877" stroke="#3b1a52" stroke-width="0.7"/>
<text x="380.48" y="175.6" font-size="8.3" text-anchor="middle" font-weight="normal" fill="#1c1c1c" stroke="#2a2a2a" stroke-width="0.2">IFN-&#947;</text>
<line x1="405.17" y1="160.5" x2="405.17" y2="158.6" stroke="#1c1c1c" stroke-width="0.95"/>
<line x1="402.87" y1="158.6" x2="407.47" y2="158.6" stroke="#1c1c1c" stroke-width="0.95"/>
<rect x="401.87" y="160.85" width="6.6" height="1.1" fill="#b50c33" stroke="#8a1030" stroke-width="0.7"/>
<rect x="408.82" y="161.8" width="7.3" height="0.5" fill="#1f355e"/>
<line x1="419.77" y1="99.2" x2="419.77" y2="83.5" stroke="#1c1c1c" stroke-width="0.95"/>
<line x1="417.47" y1="83.5" x2="422.07" y2="83.5" stroke="#1c1c1c" stroke-width="0.95"/>
<rect x="416.47" y="99.55" width="6.6" height="62.4" fill="#6aab44" stroke="#4f8432" stroke-width="0.7"/>
<line x1="427.07" y1="138.2" x2="427.07" y2="129.9" stroke="#1c1c1c" stroke-width="0.95"/>
<line x1="424.77" y1="129.9" x2="429.37" y2="129.9" stroke="#1c1c1c" stroke-width="0.95"/>
<rect x="423.77" y="138.55" width="6.6" height="23.4" fill="#572877" stroke="#3b1a52" stroke-width="0.7"/>
<text x="414.36" y="175.6" font-size="8.3" text-anchor="middle" font-weight="normal" fill="#1c1c1c" stroke="#2a2a2a" stroke-width="0.2">IL6</text>
<line x1="455.45" y1="162.3" x2="455.45" y2="159.4" stroke="#1c1c1c" stroke-width="0.95"/>
<line x1="453.15" y1="159.4" x2="457.75" y2="159.4" stroke="#1c1c1c" stroke-width="0.95"/>
<text x="451.84" y="175.6" font-size="8.3" text-anchor="middle" font-weight="normal" fill="#1c1c1c" stroke="#2a2a2a" stroke-width="0.2">IL4</text>
<rect x="473.23" y="161.35" width="6.6" height="0.6" fill="#b50c33" stroke="#8a1030" stroke-width="0.7"/>
<line x1="491.13" y1="158" x2="491.13" y2="157" stroke="#1c1c1c" stroke-width="0.95"/>
<line x1="488.83" y1="157" x2="493.43" y2="157" stroke="#1c1c1c" stroke-width="0.95"/>
<rect x="487.83" y="158.35" width="6.6" height="3.6" fill="#6aab44" stroke="#4f8432" stroke-width="0.7"/>
<rect x="495.13" y="161.45" width="6.6" height="0.5" fill="#572877" stroke="#3b1a52" stroke-width="0.7"/>
<text x="487.52" y="175.6" font-size="8.3" text-anchor="middle" font-weight="normal" fill="#1c1c1c" stroke="#2a2a2a" stroke-width="0.2">IL2</text>
<path d="M261.2,160.2 V157.7 H270.2 V160.2" fill="none" stroke="#1c1c1c" stroke-width="1.05"/>
<text x="265.7" y="154.4" font-size="7.1" text-anchor="middle" font-weight="normal" fill="#1c1c1c" stroke="#2a2a2a" stroke-width="0.2">n.s</text>
<path d="M277.2,117 V109.7 H284.1 V160.7" fill="none" stroke="#1c1c1c" stroke-width="1.05"/>
<text x="280.65" y="106.4" font-size="7.1" text-anchor="middle" font-weight="normal" fill="#1c1c1c" stroke="#2a2a2a" stroke-width="0.2">n.s</text>
<path d="M297.9,159.6 V157.4 H307.9 V159.6" fill="none" stroke="#1c1c1c" stroke-width="1.05"/>
<text x="302.9" y="154.1" font-size="7.1" text-anchor="middle" font-weight="normal" fill="#1c1c1c" stroke="#2a2a2a" stroke-width="0.2">n.s</text>
<path d="M312.6,157 V154.4 H322.4 V159.6" fill="none" stroke="#1c1c1c" stroke-width="1.05"/>
<text x="317.5" y="151.1" font-size="7.1" text-anchor="middle" font-weight="normal" fill="#1c1c1c" stroke="#2a2a2a" stroke-width="0.2">n.s</text>
<path d="M333.6,84.4 V79.5 H340.9 V138.6" fill="none" stroke="#1c1c1c" stroke-width="1.05"/>
<text x="337.25" y="76.2" font-size="7.1" text-anchor="middle" font-weight="normal" fill="#1c1c1c" stroke="#2a2a2a" stroke-width="0.2">n.s</text>
<path d="M348.5,43.4 V37.6 H355.9 V79.1" fill="none" stroke="#1c1c1c" stroke-width="1.05"/>
<circle cx="349.9" cy="33.1" r="1.35" fill="#111"/>
<circle cx="354.3" cy="33.1" r="1.35" fill="#111"/>
<path d="M368.6,137.6 V130.4 H376.9 V160.5" fill="none" stroke="#1c1c1c" stroke-width="1.05"/>
<text x="372.75" y="127.1" font-size="7.1" text-anchor="middle" font-weight="normal" fill="#1c1c1c" stroke="#2a2a2a" stroke-width="0.2">n.s</text>
<path d="M384.5,92.6 V85.4 H391.4 V120.6" fill="none" stroke="#1c1c1c" stroke-width="1.05"/>
<circle cx="388" cy="80.9" r="1.35" fill="#111"/>
<path d="M404.7,157.4 V154.7 H414.1 V160.5" fill="none" stroke="#1c1c1c" stroke-width="1.05"/>
<text x="409.4" y="151.4" font-size="7.1" text-anchor="middle" font-weight="normal" fill="#1c1c1c" stroke="#2a2a2a" stroke-width="0.2">n.s</text>
<path d="M419.8,81.6 V76.6 H426.9 V127.3" fill="none" stroke="#1c1c1c" stroke-width="1.05"/>
<circle cx="423.6" cy="71.5" r="1.35" fill="#111"/>
<path d="M439.8,160 V157.4 H448.8 V160" fill="none" stroke="#1c1c1c" stroke-width="1.05"/>
<text x="444.3" y="154.1" font-size="7.1" text-anchor="middle" font-weight="normal" fill="#1c1c1c" stroke="#2a2a2a" stroke-width="0.2">n.s</text>
<path d="M455,158 V155.9 H462.9 V160" fill="none" stroke="#1c1c1c" stroke-width="1.05"/>
<text x="458.95" y="152.6" font-size="7.1" text-anchor="middle" font-weight="normal" fill="#1c1c1c" stroke="#2a2a2a" stroke-width="0.2">n.s</text>
<path d="M476.5,159.4 V157.4 H485.2 V159.4" fill="none" stroke="#1c1c1c" stroke-width="1.05"/>
<text x="480.85" y="154.1" font-size="7.1" text-anchor="middle" font-weight="normal" fill="#1c1c1c" stroke="#2a2a2a" stroke-width="0.2">n.s</text>
<path d="M491.4,155.8 V154.4 H498.4 V157" fill="none" stroke="#1c1c1c" stroke-width="1.05"/>
<circle cx="495.2" cy="149.7" r="1.35" fill="#111"/>
<rect x="373.45" y="29.35" width="7.5" height="7.5" fill="#b50c33" stroke="#8a1030" stroke-width="0.5"/>
<text x="384.5" y="35.5" font-size="7.6" text-anchor="start" font-weight="normal" fill="#1c1c1c" stroke="#2a2a2a" stroke-width="0.2">Syn cont. (n=4)</text>
<rect x="373.45" y="40.75" width="7.5" height="7.5" fill="#2c4b84" stroke="#1f355e" stroke-width="0.5"/>
<text x="384.5" y="46.9" font-size="7.6" text-anchor="start" font-weight="normal" fill="#1c1c1c" stroke="#2a2a2a" stroke-width="0.2">Syn IgY (n=4)</text>
<rect x="445.65" y="29.35" width="7.5" height="7.5" fill="#6aab44" stroke="#4f8432" stroke-width="0.5"/>
<text x="456.8" y="35.5" font-size="7.6" text-anchor="start" font-weight="normal" fill="#1c1c1c" stroke="#2a2a2a" stroke-width="0.2">Allo cont. (n=6)</text>
<rect x="445.65" y="40.75" width="7.5" height="7.5" fill="#572877" stroke="#3b1a52" stroke-width="0.5"/>
<text x="456.8" y="46.9" font-size="7.6" text-anchor="start" font-weight="normal" fill="#1c1c1c" stroke="#2a2a2a" stroke-width="0.2">Allo IgY (n=7)</text>
<line x1="255.6" y1="204.4" x2="255.6" y2="349.4" stroke="#1c1c1c" stroke-width="1.45"/>
<line x1="254.9" y1="346.9" x2="510.95" y2="346.9" stroke="#1c1c1c" stroke-width="1.45"/>
<line x1="306.15" y1="346.9" x2="306.15" y2="350.1" stroke="#1c1c1c" stroke-width="1.1"/>
<line x1="356.7" y1="346.9" x2="356.7" y2="350.1" stroke="#1c1c1c" stroke-width="1.1"/>
<line x1="407.25" y1="346.9" x2="407.25" y2="350.1" stroke="#1c1c1c" stroke-width="1.1"/>
<line x1="457.8" y1="346.9" x2="457.8" y2="350.1" stroke="#1c1c1c" stroke-width="1.1"/>
<line x1="508.35" y1="346.9" x2="508.35" y2="350.1" stroke="#1c1c1c" stroke-width="1.1"/>
<line x1="252.4" y1="346.9" x2="255.6" y2="346.9" stroke="#1c1c1c" stroke-width="1.1"/>
<line x1="253.2" y1="342.26" x2="255.6" y2="342.26" stroke="#1c1c1c" stroke-width="0.95"/>
<line x1="253.2" y1="337.62" x2="255.6" y2="337.62" stroke="#1c1c1c" stroke-width="0.95"/>
<line x1="253.2" y1="332.98" x2="255.6" y2="332.98" stroke="#1c1c1c" stroke-width="0.95"/>
<line x1="253.2" y1="328.34" x2="255.6" y2="328.34" stroke="#1c1c1c" stroke-width="0.95"/>
<line x1="252.4" y1="323.7" x2="255.6" y2="323.7" stroke="#1c1c1c" stroke-width="1.1"/>
<line x1="253.2" y1="319.06" x2="255.6" y2="319.06" stroke="#1c1c1c" stroke-width="0.95"/>
<line x1="253.2" y1="314.42" x2="255.6" y2="314.42" stroke="#1c1c1c" stroke-width="0.95"/>
<line x1="253.2" y1="309.78" x2="255.6" y2="309.78" stroke="#1c1c1c" stroke-width="0.95"/>
<line x1="253.2" y1="305.14" x2="255.6" y2="305.14" stroke="#1c1c1c" stroke-width="0.95"/>
<line x1="252.4" y1="300.5" x2="255.6" y2="300.5" stroke="#1c1c1c" stroke-width="1.1"/>
<line x1="253.2" y1="295.86" x2="255.6" y2="295.86" stroke="#1c1c1c" stroke-width="0.95"/>
<line x1="253.2" y1="291.22" x2="255.6" y2="291.22" stroke="#1c1c1c" stroke-width="0.95"/>
<line x1="253.2" y1="286.58" x2="255.6" y2="286.58" stroke="#1c1c1c" stroke-width="0.95"/>
<line x1="253.2" y1="281.94" x2="255.6" y2="281.94" stroke="#1c1c1c" stroke-width="0.95"/>
<line x1="252.4" y1="277.3" x2="255.6" y2="277.3" stroke="#1c1c1c" stroke-width="1.1"/>
<line x1="253.2" y1="272.66" x2="255.6" y2="272.66" stroke="#1c1c1c" stroke-width="0.95"/>
<line x1="253.2" y1="268.02" x2="255.6" y2="268.02" stroke="#1c1c1c" stroke-width="0.95"/>
<line x1="253.2" y1="263.38" x2="255.6" y2="263.38" stroke="#1c1c1c" stroke-width="0.95"/>
<line x1="253.2" y1="258.74" x2="255.6" y2="258.74" stroke="#1c1c1c" stroke-width="0.95"/>
<line x1="252.4" y1="254.1" x2="255.6" y2="254.1" stroke="#1c1c1c" stroke-width="1.1"/>
<line x1="253.2" y1="249.46" x2="255.6" y2="249.46" stroke="#1c1c1c" stroke-width="0.95"/>
<line x1="253.2" y1="244.82" x2="255.6" y2="244.82" stroke="#1c1c1c" stroke-width="0.95"/>
<line x1="253.2" y1="240.18" x2="255.6" y2="240.18" stroke="#1c1c1c" stroke-width="0.95"/>
<line x1="253.2" y1="235.54" x2="255.6" y2="235.54" stroke="#1c1c1c" stroke-width="0.95"/>
<line x1="252.4" y1="230.9" x2="255.6" y2="230.9" stroke="#1c1c1c" stroke-width="1.1"/>
<line x1="253.2" y1="226.26" x2="255.6" y2="226.26" stroke="#1c1c1c" stroke-width="0.95"/>
<line x1="253.2" y1="221.62" x2="255.6" y2="221.62" stroke="#1c1c1c" stroke-width="0.95"/>
<line x1="253.2" y1="216.98" x2="255.6" y2="216.98" stroke="#1c1c1c" stroke-width="0.95"/>
<line x1="253.2" y1="212.34" x2="255.6" y2="212.34" stroke="#1c1c1c" stroke-width="0.95"/>
<line x1="252.4" y1="207.7" x2="255.6" y2="207.7" stroke="#1c1c1c" stroke-width="1.1"/>
<text x="249.7" y="349.9" font-size="8.3" text-anchor="end" font-weight="normal" fill="#1c1c1c" stroke="#2a2a2a" stroke-width="0.2">0</text>
<text x="249.7" y="326.7" font-size="8.3" text-anchor="end" font-weight="normal" fill="#1c1c1c" stroke="#2a2a2a" stroke-width="0.2">2</text>
<text x="249.7" y="303.5" font-size="8.3" text-anchor="end" font-weight="normal" fill="#1c1c1c" stroke="#2a2a2a" stroke-width="0.2">4</text>
<text x="249.7" y="280.3" font-size="8.3" text-anchor="end" font-weight="normal" fill="#1c1c1c" stroke="#2a2a2a" stroke-width="0.2">6</text>
<text x="249.7" y="257.1" font-size="8.3" text-anchor="end" font-weight="normal" fill="#1c1c1c" stroke="#2a2a2a" stroke-width="0.2">8</text>
<text x="249.7" y="233.9" font-size="8.3" text-anchor="end" font-weight="normal" fill="#1c1c1c" stroke="#2a2a2a" stroke-width="0.2">10</text>
<text x="249.7" y="210.7" font-size="8.3" text-anchor="end" font-weight="normal" fill="#1c1c1c" stroke="#2a2a2a" stroke-width="0.2">12</text>
<text transform="translate(235,276) rotate(-90)" font-size="8.8" text-anchor="middle" fill="#1c1c1c" stroke="#2a2a2a" stroke-width="0.2">Pathology score</text>
<rect x="260.55" y="331.05" width="9.7" height="15.5" fill="#b50c33" stroke="#8a1030" stroke-width="0.7"/>
<line x1="275.8" y1="338.6" x2="275.8" y2="328.5" stroke="#1c1c1c" stroke-width="1"/>
<line x1="273.4" y1="328.5" x2="278.2" y2="328.5" stroke="#1c1c1c" stroke-width="1"/>
<rect x="270.95" y="338.95" width="9.7" height="7.6" fill="#2c4b84" stroke="#1f355e" stroke-width="0.7"/>
<line x1="286.2" y1="301" x2="286.2" y2="298.8" stroke="#1c1c1c" stroke-width="1"/>
<line x1="283.8" y1="298.8" x2="288.6" y2="298.8" stroke="#1c1c1c" stroke-width="1"/>
<rect x="281.35" y="301.35" width="9.7" height="45.2" fill="#6aab44" stroke="#4f8432" stroke-width="0.7"/>
<line x1="296.6" y1="305.3" x2="296.6" y2="302.7" stroke="#1c1c1c" stroke-width="1"/>
<line x1="294.2" y1="302.7" x2="299" y2="302.7" stroke="#1c1c1c" stroke-width="1"/>
<rect x="291.75" y="305.65" width="9.7" height="40.9" fill="#572877" stroke="#3b1a52" stroke-width="0.7"/>
<text x="280.88" y="360.7" font-size="8.3" text-anchor="middle" font-weight="normal" fill="#1c1c1c" stroke="#2a2a2a" stroke-width="0.2">s. intestine</text>
<rect x="311.1" y="338.75" width="9.7" height="7.8" fill="#b50c33" stroke="#8a1030" stroke-width="0.7"/>
<line x1="326.35" y1="335.6" x2="326.35" y2="326.7" stroke="#1c1c1c" stroke-width="1"/>
<line x1="323.95" y1="326.7" x2="328.75" y2="326.7" stroke="#1c1c1c" stroke-width="1"/>
<rect x="321.5" y="335.95" width="9.7" height="10.6" fill="#2c4b84" stroke="#1f355e" stroke-width="0.7"/>
<line x1="336.75" y1="282.1" x2="336.75" y2="274.2" stroke="#1c1c1c" stroke-width="1"/>
<line x1="334.35" y1="274.2" x2="339.15" y2="274.2" stroke="#1c1c1c" stroke-width="1"/>
<rect x="331.9" y="282.45" width="9.7" height="64.1" fill="#6aab44" stroke="#4f8432" stroke-width="0.7"/>
<line x1="347.15" y1="300" x2="347.15" y2="294" stroke="#1c1c1c" stroke-width="1"/>
<line x1="344.75" y1="294" x2="349.55" y2="294" stroke="#1c1c1c" stroke-width="1"/>
<rect x="342.3" y="300.35" width="9.7" height="46.2" fill="#572877" stroke="#3b1a52" stroke-width="0.7"/>
<text x="331.42" y="360.7" font-size="8.3" text-anchor="middle" font-weight="normal" fill="#1c1c1c" stroke="#2a2a2a" stroke-width="0.2">colon</text>
<rect x="372.05" y="327.05" width="9.7" height="19.5" fill="#2c4b84" stroke="#1f355e" stroke-width="0.7"/>
<line x1="387.3" y1="292.3" x2="387.3" y2="284.7" stroke="#1c1c1c" stroke-width="1"/>
<line x1="384.9" y1="284.7" x2="389.7" y2="284.7" stroke="#1c1c1c" stroke-width="1"/>
<rect x="382.45" y="292.65" width="9.7" height="53.9" fill="#6aab44" stroke="#4f8432" stroke-width="0.7"/>
<line x1="397.7" y1="297.1" x2="397.7" y2="289.6" stroke="#1c1c1c" stroke-width="1"/>
<line x1="395.3" y1="289.6" x2="400.1" y2="289.6" stroke="#1c1c1c" stroke-width="1"/>
<rect x="392.85" y="297.45" width="9.7" height="49.1" fill="#572877" stroke="#3b1a52" stroke-width="0.7"/>
<text x="381.97" y="360.7" font-size="8.3" text-anchor="middle" font-weight="normal" fill="#1c1c1c" stroke="#2a2a2a" stroke-width="0.2">lung</text>
<rect x="412.2" y="332.95" width="9.7" height="13.6" fill="#b50c33" stroke="#8a1030" stroke-width="0.7"/>
<line x1="427.45" y1="327.1" x2="427.45" y2="317.7" stroke="#1c1c1c" stroke-width="1"/>
<line x1="425.05" y1="317.7" x2="429.85" y2="317.7" stroke="#1c1c1c" stroke-width="1"/>
<rect x="422.6" y="327.45" width="9.7" height="19.1" fill="#2c4b84" stroke="#1f355e" stroke-width="0.7"/>
<line x1="437.85" y1="259.9" x2="437.85" y2="256.8" stroke="#1c1c1c" stroke-width="1"/>
<line x1="435.45" y1="256.8" x2="440.25" y2="256.8" stroke="#1c1c1c" stroke-width="1"/>
<rect x="433" y="260.25" width="9.7" height="86.3" fill="#6aab44" stroke="#4f8432" stroke-width="0.7"/>
<line x1="448.25" y1="266.9" x2="448.25" y2="261.3" stroke="#1c1c1c" stroke-width="1"/>
<line x1="445.85" y1="261.3" x2="450.65" y2="261.3" stroke="#1c1c1c" stroke-width="1"/>
<rect x="443.4" y="267.25" width="9.7" height="79.3" fill="#572877" stroke="#3b1a52" stroke-width="0.7"/>
<text x="432.52" y="360.7" font-size="8.3" text-anchor="middle" font-weight="normal" fill="#1c1c1c" stroke="#2a2a2a" stroke-width="0.2">liver</text>
<rect x="483.55" y="323.75" width="9.7" height="22.8" fill="#6aab44" stroke="#4f8432" stroke-width="0.7"/>
<rect x="493.95" y="324.55" width="9.7" height="22" fill="#572877" stroke="#3b1a52" stroke-width="0.7"/>
<text x="483.07" y="360.7" font-size="8.3" text-anchor="middle" font-weight="normal" fill="#1c1c1c" stroke="#2a2a2a" stroke-width="0.2">skin</text>
<path d="M264.6,328.1 V321.8 H274.5 V325.4" fill="none" stroke="#1c1c1c" stroke-width="1.05"/>
<text x="269.55" y="319" font-size="7.5" text-anchor="middle" font-weight="normal" fill="#1c1c1c" stroke="#2a2a2a" stroke-width="0.2">ns</text>
<path d="M284.6,295.5 V291.8 H295.3 V297.9" fill="none" stroke="#1c1c1c" stroke-width="1.05"/>
<text x="289.95" y="289" font-size="7.5" text-anchor="middle" font-weight="normal" fill="#1c1c1c" stroke="#2a2a2a" stroke-width="0.2">ns</text>
<path d="M315.5,332 V314.4 H325.3 V323" fill="none" stroke="#1c1c1c" stroke-width="1.05"/>
<text x="320.4" y="310.8" font-size="7.5" text-anchor="middle" font-weight="normal" fill="#1c1c1c" stroke="#2a2a2a" stroke-width="0.2">ns</text>
<path d="M335.3,270.8 V262.4 H346.8 V288.7" fill="none" stroke="#1c1c1c" stroke-width="1.05"/>
<circle cx="341.4" cy="257.8" r="1.3" fill="#111"/>
<path d="M366,340 V320.8 H375.7 V324.3" fill="none" stroke="#1c1c1c" stroke-width="1.05"/>
<text x="370.85" y="318" font-size="7.5" text-anchor="middle" font-weight="normal" fill="#1c1c1c" stroke="#2a2a2a" stroke-width="0.2">ns</text>
<path d="M386.7,280.2 V276.7 H396.4 V286.8" fill="none" stroke="#1c1c1c" stroke-width="1.05"/>
<text x="391.55" y="272.7" font-size="7.5" text-anchor="middle" font-weight="normal" fill="#1c1c1c" stroke="#2a2a2a" stroke-width="0.2">ns</text>
<path d="M416.7,328.3 V311.4 H427.4 V315" fill="none" stroke="#1c1c1c" stroke-width="1.05"/>
<text x="422.05" y="309" font-size="7.5" text-anchor="middle" font-weight="normal" fill="#1c1c1c" stroke="#2a2a2a" stroke-width="0.2">ns</text>
<path d="M436.7,251.3 V247.8 H446.9 V257.6" fill="none" stroke="#1c1c1c" stroke-width="1.05"/>
<text x="441.8" y="245.3" font-size="7.5" text-anchor="middle" font-weight="normal" fill="#1c1c1c" stroke="#2a2a2a" stroke-width="0.2">ns</text>
<path d="M468.8,343.4 V340.4 H479 V343.4" fill="none" stroke="#1c1c1c" stroke-width="1.05"/>
<text x="473.9" y="337.3" font-size="7.5" text-anchor="middle" font-weight="normal" fill="#1c1c1c" stroke="#2a2a2a" stroke-width="0.2">ns</text>
<path d="M487.4,320 V316.2 H498.6 V322.4" fill="none" stroke="#1c1c1c" stroke-width="1.05"/>
<text x="493" y="313.2" font-size="7.5" text-anchor="middle" font-weight="normal" fill="#1c1c1c" stroke="#2a2a2a" stroke-width="0.2">ns</text>
<rect x="263.35" y="212.75" width="7.5" height="7.5" fill="#b50c33" stroke="#8a1030" stroke-width="0.5"/>
<text x="274.5" y="218.9" font-size="7.6" text-anchor="start" font-weight="normal" fill="#1c1c1c" stroke="#2a2a2a" stroke-width="0.2">Syn cont. (n=4)</text>
<rect x="263.35" y="224.15" width="7.5" height="7.5" fill="#2c4b84" stroke="#1f355e" stroke-width="0.5"/>
<text x="274.5" y="230.3" font-size="7.6" text-anchor="start" font-weight="normal" fill="#1c1c1c" stroke="#2a2a2a" stroke-width="0.2">Syn IgY (n=4)</text>
<rect x="335.55" y="212.75" width="7.5" height="7.5" fill="#6aab44" stroke="#4f8432" stroke-width="0.5"/>
<text x="346.9" y="218.9" font-size="7.6" text-anchor="start" font-weight="normal" fill="#1c1c1c" stroke="#2a2a2a" stroke-width="0.2">Allo cont. (n=6)</text>
<rect x="335.55" y="224.15" width="7.5" height="7.5" fill="#572877" stroke="#3b1a52" stroke-width="0.5"/>
<text x="346.9" y="230.3" font-size="7.6" text-anchor="start" font-weight="normal" fill="#1c1c1c" stroke="#2a2a2a" stroke-width="0.2">Allo IgY (n=7)</text>
</svg>
</body></html>
